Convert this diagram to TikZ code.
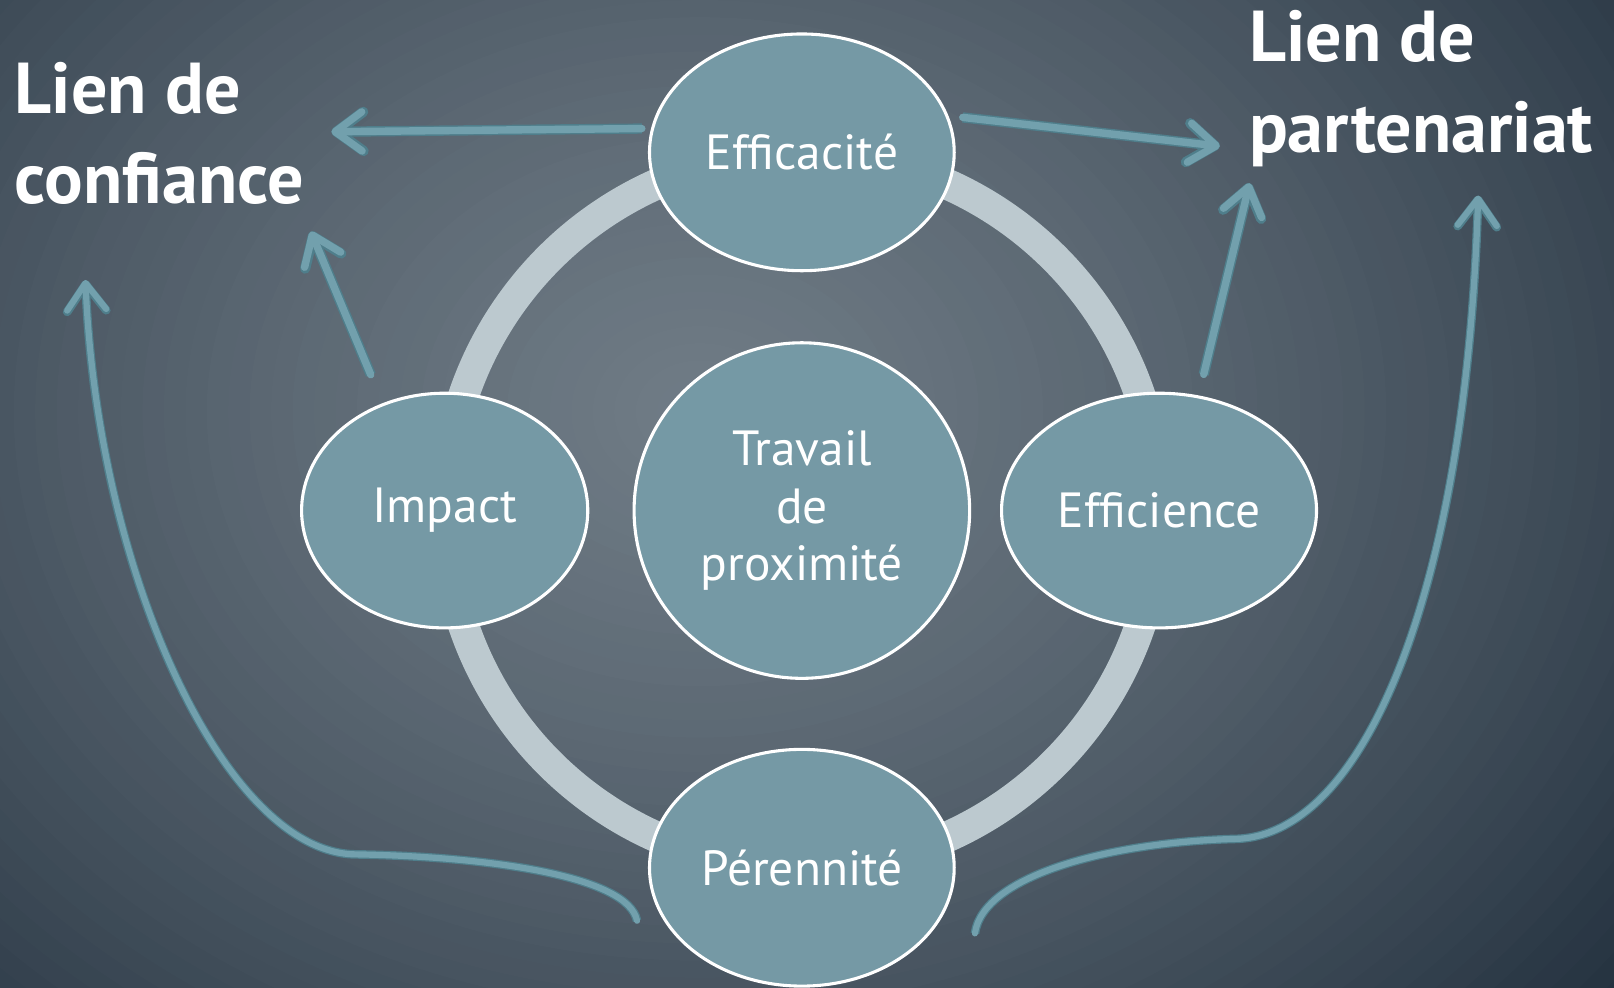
\documentclass[tikz,border=0pt]{standalone}
\usepackage{fontspec}
\setmainfont{PT Sans}
\usepackage{tikz}
\usetikzlibrary{arrows.meta,shapes.geometric,positioning}

\definecolor{bubblefill}{HTML}{7599A5}
\definecolor{ringcol}{HTML}{BCC9CF}
\definecolor{arrcol}{HTML}{72A0AD}
\definecolor{arrdark}{HTML}{4F7E8B}
\definecolor{bgA}{HTML}{717D87}
\definecolor{bgE}{HTML}{1B2937}

\begin{document}
\begin{tikzpicture}[x=0.5pt, y=-0.5pt,
    bubble/.style={ellipse, draw=white, line width=1.5pt, fill=bubblefill, text=white,
      inner sep=0pt, align=center, font=\fontsize{24}{28}\selectfont},
    title/.style={anchor=north west, inner sep=0pt, text=white, align=left,
      font=\fontsize{35}{44}\selectfont\bfseries},
    arr/.style 2 args={draw=arrcol, line width=#1, line cap=round, line join=round,
      -{Straight Barb[length=13pt,width=19pt,round]},
      preaction={draw=arrdark, line width=#2}}]
    % background
    \useasboundingbox (0,0) rectangle (1568,959);
    \begin{scope}
      \clip (0,0) rectangle (1568,959);
      \fill[bgE] (0,0) rectangle (1568,959);
      \foreach \i in {60,...,1} {
        \pgfmathsetmacro\r{1.25*\i/60}
        \pgfmathtruncatemacro\p{max(0,min(100,100*(84-40*\r-22*\r*\r)/84))}
        \fill[bgA!\p!bgE] (680,400) ellipse [x radius=\r*1000, y radius=\r*800];
      }
    \end{scope}
    \coordinate(O) at (779,496);
    \draw[ringcol, line width=15pt] (O) circle[radius=347];

    \node(T) at (O) [bubble, circle, minimum size=163pt] {Travail\\de\\proximité};
    \node(Eff) at (779,148) [bubble, minimum width=148pt, minimum height=115pt] {Efficacité};
    \node(Imp) at (432,496) [bubble, minimum width=139pt, minimum height=114pt] {Impact};
    \node(Effi) at (1126,496) [bubble, minimum width=153pt, minimum height=114pt] {Efficience};
    \node(Per) at (779,843) [bubble, minimum width=148pt, minimum height=115pt] {Pérennité};

    \node(Conf) at (14,60) [title] {Lien de\\confiance};
    \node(Part) at (1213,10) [title] {Lien de\\partenariat};

    % arrow ends
    \coordinate(c1) at (322,128);
    \coordinate(c2) at (302,225);
    \coordinate(c3) at (83,272);
    \coordinate(p1) at (1185,142);
    \coordinate(p2) at (1214,178);
    \coordinate(p3) at (1436,190);
    \coordinate(pl) at ([xshift=-13pt]Per.201);
    \coordinate(pr) at ([xshift=21.5pt]Per.-27);

    \draw[arr={3.6pt}{5pt}, shorten <=4.5pt] (Eff.171) -- (c1);
    \draw[arr={3.6pt}{5pt}, shorten <=7pt] (Eff.14) -- (p1);
    \draw[arr={3.6pt}{5pt}, shorten <=15pt] (Imp.120) -- (c2);
    \draw[arr={3.6pt}{5pt}, shorten <=10.5pt] (Effi.71) -- (p2);
    \draw[arr={3pt}{4.2pt}] (pl) .. controls (610,850) and (470,832) .. (345,830)
      .. controls (220,828) and (95,560) .. (c3);
    \draw[arr={3pt}{4.2pt}] (pr) .. controls (955,850) and (1080,818) .. (1200,815)
      .. controls (1330,812) and (1425,560) .. (p3);
\end{tikzpicture}
\end{document}
